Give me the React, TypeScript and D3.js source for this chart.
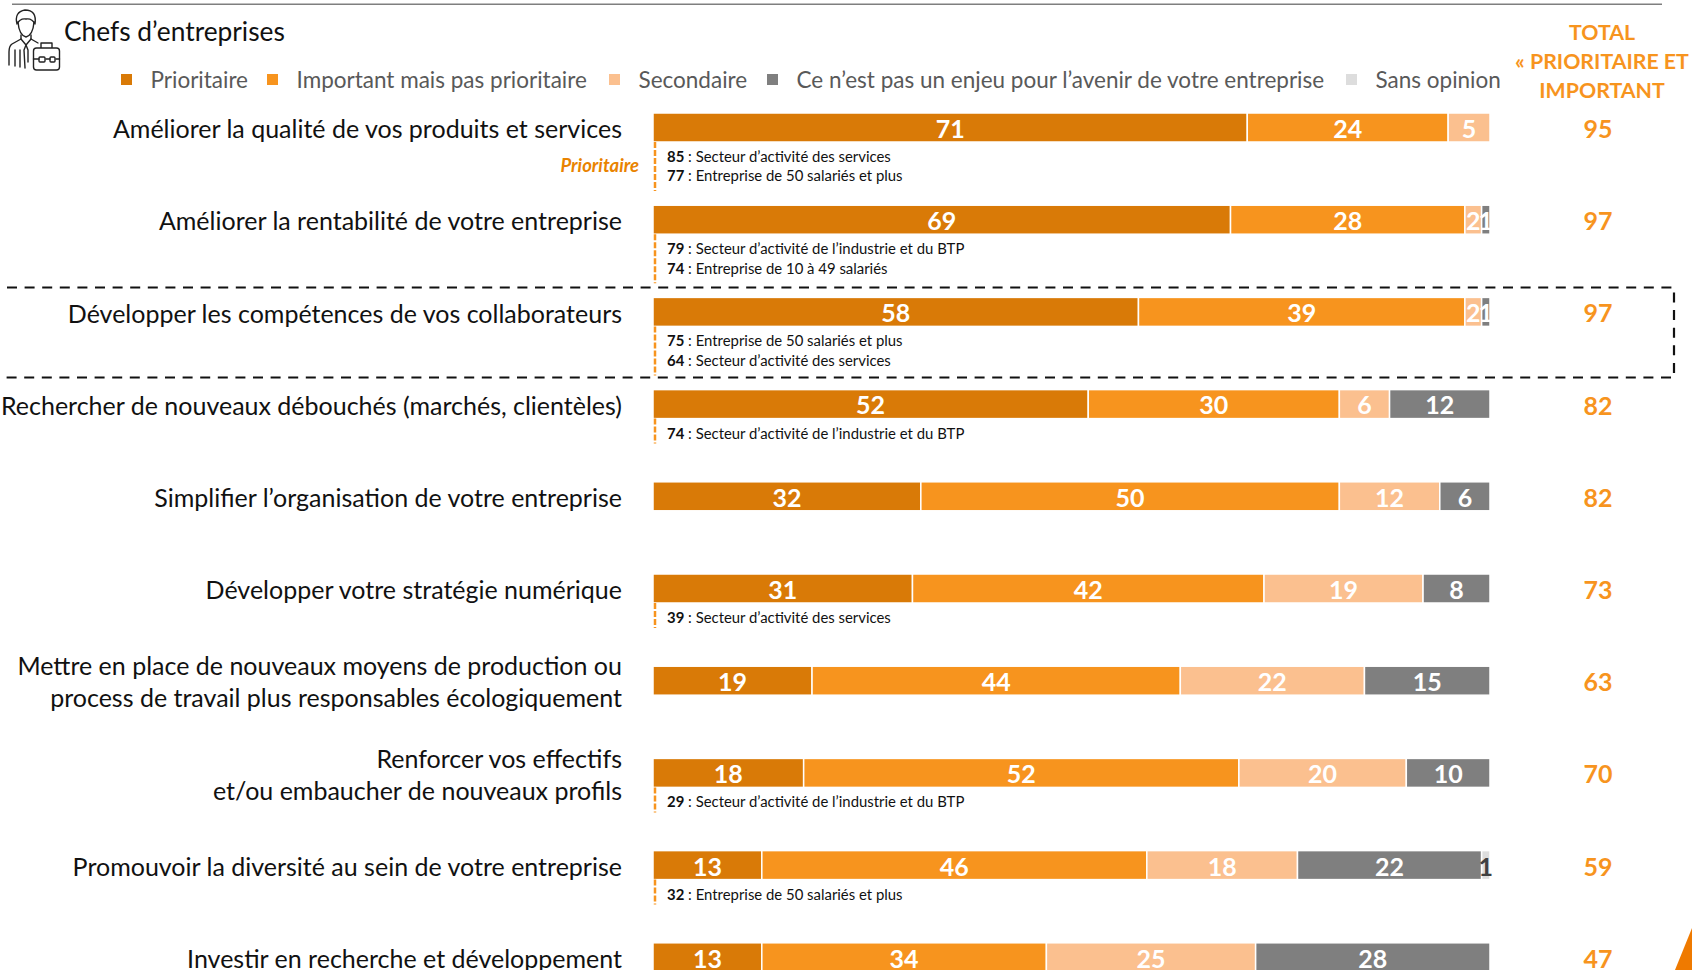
import React from 'react';
import * as d3 from 'd3';

const FONT = 'Lato, "Open Sans", sans-serif';

const seriesNames = ['Prioritaire', 'Important mais pas prioritaire', 'Secondaire', 'Ce n’est pas un enjeu pour l’avenir de votre entreprise', 'Sans opinion'];
const seriesColors = ['#D97A07', '#F7941E', '#FBC08F', '#7F7F7F', '#DDDDDD'];

const labels = [
  ['Améliorer la qualité de vos produits et services'],
  ['Améliorer la rentabilité de votre entreprise'],
  ['Développer les compétences de vos collaborateurs'],
  ['Rechercher de nouveaux débouchés (marchés, clientèles)'],
  ['Simplifier l’organisation de votre entreprise'],
  ['Développer votre stratégie numérique'],
  ['Mettre en place de nouveaux moyens de production ou', 'process de travail plus responsables écologiquement'],
  ['Renforcer vos effectifs', 'et/ou embaucher de nouveaux profils'],
  ['Promouvoir la diversité au sein de votre entreprise'],
  ['Investir en recherche et développement'],
];

const prioritaire = [71, 69, 58, 52, 32, 31, 19, 18, 13, 13];
const important = [24, 28, 39, 30, 50, 42, 44, 52, 46, 34];
const secondaire = [5, 2, 2, 6, 12, 19, 22, 20, 18, 25];
const pasEnjeu = [0, 1, 1, 12, 6, 8, 15, 10, 22, 28];
const sansOpinion = [0, 0, 0, 0, 0, 0, 0, 0, 1, 0];
const totals = [95, 97, 97, 82, 82, 73, 63, 70, 59, 47];

const notes: [string, string][][] = [
  [['85', 'Secteur d’activité des services'], ['77', 'Entreprise de 50 salariés et plus']],
  [['79', 'Secteur d’activité de l’industrie et du BTP'], ['74', 'Entreprise de 10 à 49 salariés']],
  [['75', 'Entreprise de 50 salariés et plus'], ['64', 'Secteur d’activité des services']],
  [['74', 'Secteur d’activité de l’industrie et du BTP']],
  [],
  [['39', 'Secteur d’activité des services']],
  [],
  [['29', 'Secteur d’activité de l’industrie et du BTP']],
  [['32', 'Entreprise de 50 salariés et plus']],
  [],
];

const legendX = [121, 267, 609, 767, 1346];

const x = d3.scaleLinear().domain([0, 100]).range([653, 1490]);
const y = d3.scaleBand<number>().domain(d3.range(10)).range([113, 971.8]).paddingInner(0.6855).paddingOuter(0);

const rows = labels.map((_, i) => ({
  i,
  prioritaire: prioritaire[i],
  important: important[i],
  secondaire: secondaire[i],
  pasEnjeu: pasEnjeu[i],
  sansOpinion: sansOpinion[i],
}));
const stack = d3.stack<any>().keys(['prioritaire', 'important', 'secondaire', 'pasEnjeu', 'sansOpinion'])(rows);

export default function App() {
  const bh = y.bandwidth();
  return (
    <svg width={1692} height={970} style={{ position: 'absolute', left: 0, top: 0, background: '#fff' }} fontFamily={FONT}>
      <line x1={12} x2={1662} y1={4.3} y2={4.3} stroke="#7F7F7F" strokeWidth={1.5} />

      {/* icon */}
      <g fill="none" stroke="#222" strokeWidth={1.4} strokeLinejoin="round" strokeLinecap="round">
        <path d="M18 22 Q19 35 26 37 Q33 35 34 22" />
        <path d="M17 24 Q14 12 25 10 Q37 10 35 24 Q32 18 26 19 Q20 18 17 24 Z" />
        <path d="M21 35 L21 39 L12 44 Q9 46 9 52 L9 65" />
        <path d="M31 35 L31 39 L38 43" />
        <path d="M21 39 L26 45 L31 39 M26 45 L24 50 L25 68 M26 45 L28 50 L28 62" />
        <path d="M15 50 L15 66 M20 50 L20 67" />
        <path d="M41 48 L41 43 L52 43 L52 48" />
        <rect x={33.5} y={48} width={26} height={22} rx={3} fill="#fff" />
        <path d="M33.5 59 H39 M46 59 H50 M56 59 H59.5" />
        <rect x={39} y={57} width={6} height={5} rx={1} />
        <rect x={50} y={57} width={5} height={5} rx={1} />
      </g>
      <text x={64} y={41} fontSize={26.3} fill="#111">Chefs d’entreprises</text>

      {/* legend */}
      {seriesNames.map((name, i) => (
        <g key={name}>
          <rect x={legendX[i]} y={74} width={11} height={11} fill={seriesColors[i]} />
          <text x={legendX[i] + 29.5} y={88} fontSize={22.5} fill="#595959">{name}</text>
        </g>
      ))}

      {/* total header */}
      <g fill="#F7941E" fontSize={21.3} fontWeight={700} textAnchor="middle">
        <text x={1602} y={40}>TOTAL</text>
        <text x={1602} y={69}>« PRIORITAIRE ET</text>
        <text x={1602} y={98}>IMPORTANT</text>
      </g>

      {/* row labels */}
      {labels.map((lines, i) => {
        const cy = y(i)! + bh / 2;
        return lines.map((t, j) => (
          <text key={t} x={622} y={cy + 10.7 + (j - (lines.length - 1) / 2) * 32} textAnchor="end" fontSize={25} fill="#111">{t}</text>
        ));
      })}
      <text x={639} y={172} textAnchor="end" fontSize={18.5} fontWeight={700} fontStyle="italic" fill="#E98300">Prioritaire</text>

      {/* bars */}
      {stack.map((s, k) => (
        <g key={s.key}>
          {s.map((d, i) => {
            const v = d[1] - d[0];
            if (!v) return null;
            const x0 = x(d[0]);
            const x1 = x(d[1]);
            return (
              <g key={i}>
                <rect x={x0} y={y(i)!} width={x1 - x0} height={bh} fill={seriesColors[k]} stroke="#fff" strokeWidth={1.5} />
                <text x={(x0 + x1) / 2} y={y(i)! + bh / 2 + 10.4} textAnchor="middle" fontSize={25} fontWeight={700} fill={k === 4 ? '#404040' : '#fff'}>{v}</text>
              </g>
            );
          })}
        </g>
      ))}

      {/* sub notes */}
      {notes.map((list, i) => {
        if (!list.length) return null;
        const top = y(i)! + bh;
        const len = list.length === 2 ? 49 : 25;
        return (
          <g key={i}>
            <line x1={655} x2={655} y1={top} y2={top + len} stroke="#F7941E" strokeWidth={2.5} strokeDasharray="6 2" />
            {list.map(([n, t], j) => (
              <text key={n} x={667} y={top + 20 + j * 19.5} fontSize={14.9} fill="#111">
                <tspan fontWeight={700}>{n}</tspan>{' : '}{t}
              </text>
            ))}
          </g>
        );
      })}

      {/* totals */}
      {totals.map((t, i) => (
        <text key={i} x={1598} y={y(i)! + bh / 2 + 10.5} textAnchor="middle" fontSize={25} fontWeight={700} fill="#F7941E">{t}</text>
      ))}

      {/* highlight box */}
      <path d="M7 287.5 H1674 V377.5 H0" fill="none" stroke="#111" strokeWidth={2.2} strokeDasharray="10 7.6" />

      {/* corner */}
      <path d="M1675 970 L1692 928 V970 Z" fill="#EF7A00" />
    </svg>
  );
}
